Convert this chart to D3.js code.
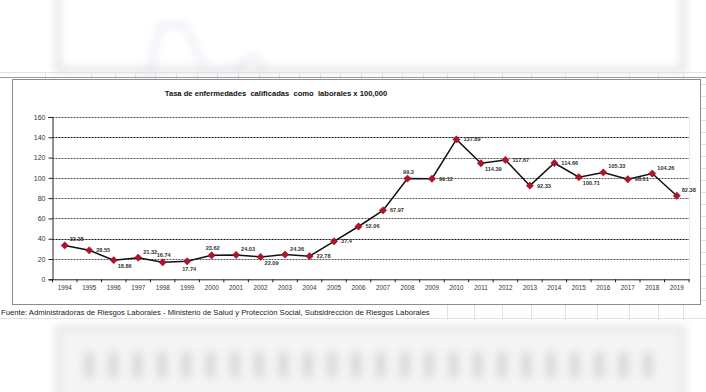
<!DOCTYPE html>
<html>
<head>
<meta charset="utf-8">
<script src="https://cdn.jsdelivr.net/npm/d3@7"></script>
<style>
  html, body { margin: 0; padding: 0; background: #ffffff; }
  svg { display: block; font-family: "Liberation Sans", Arial, sans-serif; }
  text { white-space: pre; }
</style>
</head>
<body>
<svg id="chart" width="706" height="392"></svg>
<script>
// ---- data ----
const years = ["1994","1995","1996","1997","1998","1999","2000","2001","2002","2003","2004","2005","2006",
               "2007","2008","2009","2010","2011","2012","2013","2014","2015","2016","2017","2018","2019"];
const rates = [33.38, 28.55, 18.86, 21.32, 16.74, 17.74, 23.62, 24.03, 22.09, 24.36, 22.78, 37.4, 52.06,
               67.97, 99.3, 99.12, 137.89, 114.39, 117.67, 92.33, 114.66, 100.71, 105.33, 98.61, 104.26, 82.38];
const labelPos = ["ar","r","br","ar","a","b","a","ar","br","ar","r","r","r",
                  "r","a","r","r","br","r","r","r","br","ar","r","ar","ar"];
const yTicks = [0, 20, 40, 60, 80, 100, 120, 140, 160];
const titleText = "Tasa de enfermedades  calificadas  como  laborales x 100,000";
const sourceText = "Fuente: Administradoras de Riesgos Laborales - Ministerio de Salud y Protección Social, Subsidrección de Riesgos Laborales";

(function () {
const svg = d3.select("#chart");

// ---- blurred spreadsheet background ----
const defs = svg.append("defs");
defs.append("filter").attr("id", "blur").attr("x", "-20%").attr("y", "-20%").attr("width", "140%").attr("height", "140%")
  .append("feGaussianBlur").attr("stdDeviation", 4);

const bg = svg.append("g").attr("filter", "url(#blur)");
bg.append("rect").attr("x", 58).attr("y", -10).attr("width", 625).attr("height", 80)
  .attr("fill", "#ffffff").attr("stroke", "#e2e2e2").attr("stroke-width", 6);
bg.append("path").attr("d", "M148,80 L160,25 L185,25 L205,70 L230,70 L255,55 L265,70")
  .attr("fill", "none").attr("stroke", "#dcdcf0").attr("stroke-width", 3);
bg.append("rect").attr("x", 58).attr("y", 328).attr("width", 625).attr("height", 75)
  .attr("fill", "#f4f4f4").attr("stroke", "#e6e6e6").attr("stroke-width", 6);
const blurBars = d3.range(24);
bg.selectAll("rect.bb").data(blurBars).join("rect").attr("class", "bb")
  .attr("x", d => 84 + d * 24.3).attr("y", 352).attr("width", 10).attr("height", 26)
  .attr("fill", "#d8d8d8");

// spreadsheet grid strips
const gridG = svg.append("g").attr("stroke", "#e2e2e2").attr("stroke-width", 1);
const colXs = [45, 91, 115, 135, 155, 176, 197, 217, 238, 259, 279, 299, 320, 340, 361, 382, 402, 423, 447, 474, 502, 531, 565, 597, 629, 658, 683];
gridG.selectAll("line.c").data(colXs).join("line").attr("class", "c")
  .attr("x1", d => d + 0.5).attr("x2", d => d + 0.5).attr("y1", 72).attr("y2", 79);
gridG.selectAll("line.f").data(colXs.filter(d => d > 440)).join("line").attr("class", "f")
  .attr("x1", d => d + 0.5).attr("x2", d => d + 0.5).attr("y1", 305).attr("y2", 320);
gridG.append("line").attr("x1", 0).attr("x2", 706).attr("y1", 72.5).attr("y2", 72.5);
gridG.append("line").attr("x1", 0).attr("x2", 706).attr("y1", 318.5).attr("y2", 318.5);
gridG.selectAll("line.r").data(d3.range(84, 305, 12)).join("line").attr("class", "r")
  .attr("x1", 701).attr("x2", 706).attr("y1", d => d + 0.5).attr("y2", d => d + 0.5);
svg.append("line").attr("x1", 0).attr("x2", 706).attr("y1", 77.5).attr("y2", 77.5)
  .attr("stroke", "#9a9a9a").attr("stroke-width", 1);

// ---- chart box ----
svg.append("rect").attr("x", 12.5).attr("y", 79.5).attr("width", 688).attr("height", 225)
  .attr("fill", "#ffffff").attr("stroke", "#8c8c8c").attr("stroke-width", 1);

svg.append("text").attr("x", 276).attr("y", 96).attr("text-anchor", "middle")
  .attr("font-size", 7.6).attr("font-weight", "bold").attr("fill", "#111").text(titleText);

// ---- scales ----
const pLeft = 52.5, pRight = 689, pTop = 117, pBottom = 279.3;
const x = d3.scaleBand().domain(years).range([pLeft, pRight]).paddingInner(0).paddingOuter(0);
const y = d3.scaleLinear().domain([0, 160]).range([pBottom, pTop]);

// gridlines
svg.append("g").selectAll("line").data(yTicks.filter(d => d > 0)).join("line")
  .attr("x1", pLeft).attr("x2", pRight)
  .attr("y1", d => Math.round(y(d)) + 0.5).attr("y2", d => Math.round(y(d)) + 0.5)
  .attr("stroke", d => (d === 40 || d === 140) ? "#111" : "#555")
  .attr("stroke-width", 1).attr("stroke-dasharray", "2,1");

// plot-area right edge (faint)
svg.append("line").attr("x1", pRight + 0.5).attr("x2", pRight + 0.5).attr("y1", pTop).attr("y2", pBottom)
  .attr("stroke", "#e4efe4");

// y axis
const yAxis = svg.append("g").attr("transform", `translate(${pLeft},0)`)
  .call(d3.axisLeft(y).tickValues(yTicks).tickSize(4).tickPadding(3));
yAxis.select(".domain").attr("stroke", "#222");
yAxis.selectAll(".tick line").attr("stroke", "#222");
yAxis.selectAll("text").attr("font-size", 7).attr("fill", "#333").attr("font-family", "Liberation Sans, Arial, sans-serif");

// x axis
const xAxis = svg.append("g").attr("transform", `translate(0,${pBottom})`)
  .call(d3.axisBottom(x).tickSize(0).tickPadding(6));
xAxis.select(".domain").attr("stroke", "#222");
xAxis.selectAll("text").attr("font-size", 6.3).attr("fill", "#333").attr("font-family", "Liberation Sans, Arial, sans-serif");
svg.append("g").selectAll("line").data(years.concat(["end"])).join("line")
  .attr("x1", (d, i) => pLeft + i * x.bandwidth()).attr("x2", (d, i) => pLeft + i * x.bandwidth())
  .attr("y1", pBottom).attr("y2", pBottom + 3).attr("stroke", "#222");

// line
const cx = (d, i) => x(years[i]) + x.bandwidth() / 2;
svg.append("path").datum(rates)
  .attr("d", d3.line().x((d, i) => cx(d, i)).y(d => y(d)))
  .attr("fill", "none").attr("stroke", "#111").attr("stroke-width", 1.5);

// markers
svg.append("g").selectAll("path").data(rates).join("path")
  .attr("transform", (d, i) => `translate(${cx(d, i)},${y(d)})`)
  .attr("d", d3.symbol().type(d3.symbolDiamond2).size(34))
  .attr("fill", "#b3122c").attr("stroke", "#8e0d22").attr("stroke-width", 0.5);

// data labels
const off = {
  r:  { dx: 7,  dy: 2,   anchor: "start" },
  ar: { dx: 5,  dy: -4,  anchor: "start" },
  br: { dx: 4,  dy: 8,   anchor: "start" },
  a:  { dx: 1,  dy: -5,  anchor: "middle" },
  b:  { dx: 2,  dy: 10,  anchor: "middle" }
};
svg.append("g").selectAll("text").data(rates).join("text")
  .attr("x", (d, i) => cx(d, i) + off[labelPos[i]].dx)
  .attr("y", (d, i) => y(d) + off[labelPos[i]].dy)
  .attr("text-anchor", (d, i) => off[labelPos[i]].anchor)
  .attr("font-size", 5.6).attr("font-weight", "bold").attr("fill", "#333")
  .text(d => String(d));

// source
svg.append("text").attr("x", 1).attr("y", 315).attr("font-size", 7.7).attr("fill", "#222")
  .text(sourceText);
})();
</script>
</body>
</html>
